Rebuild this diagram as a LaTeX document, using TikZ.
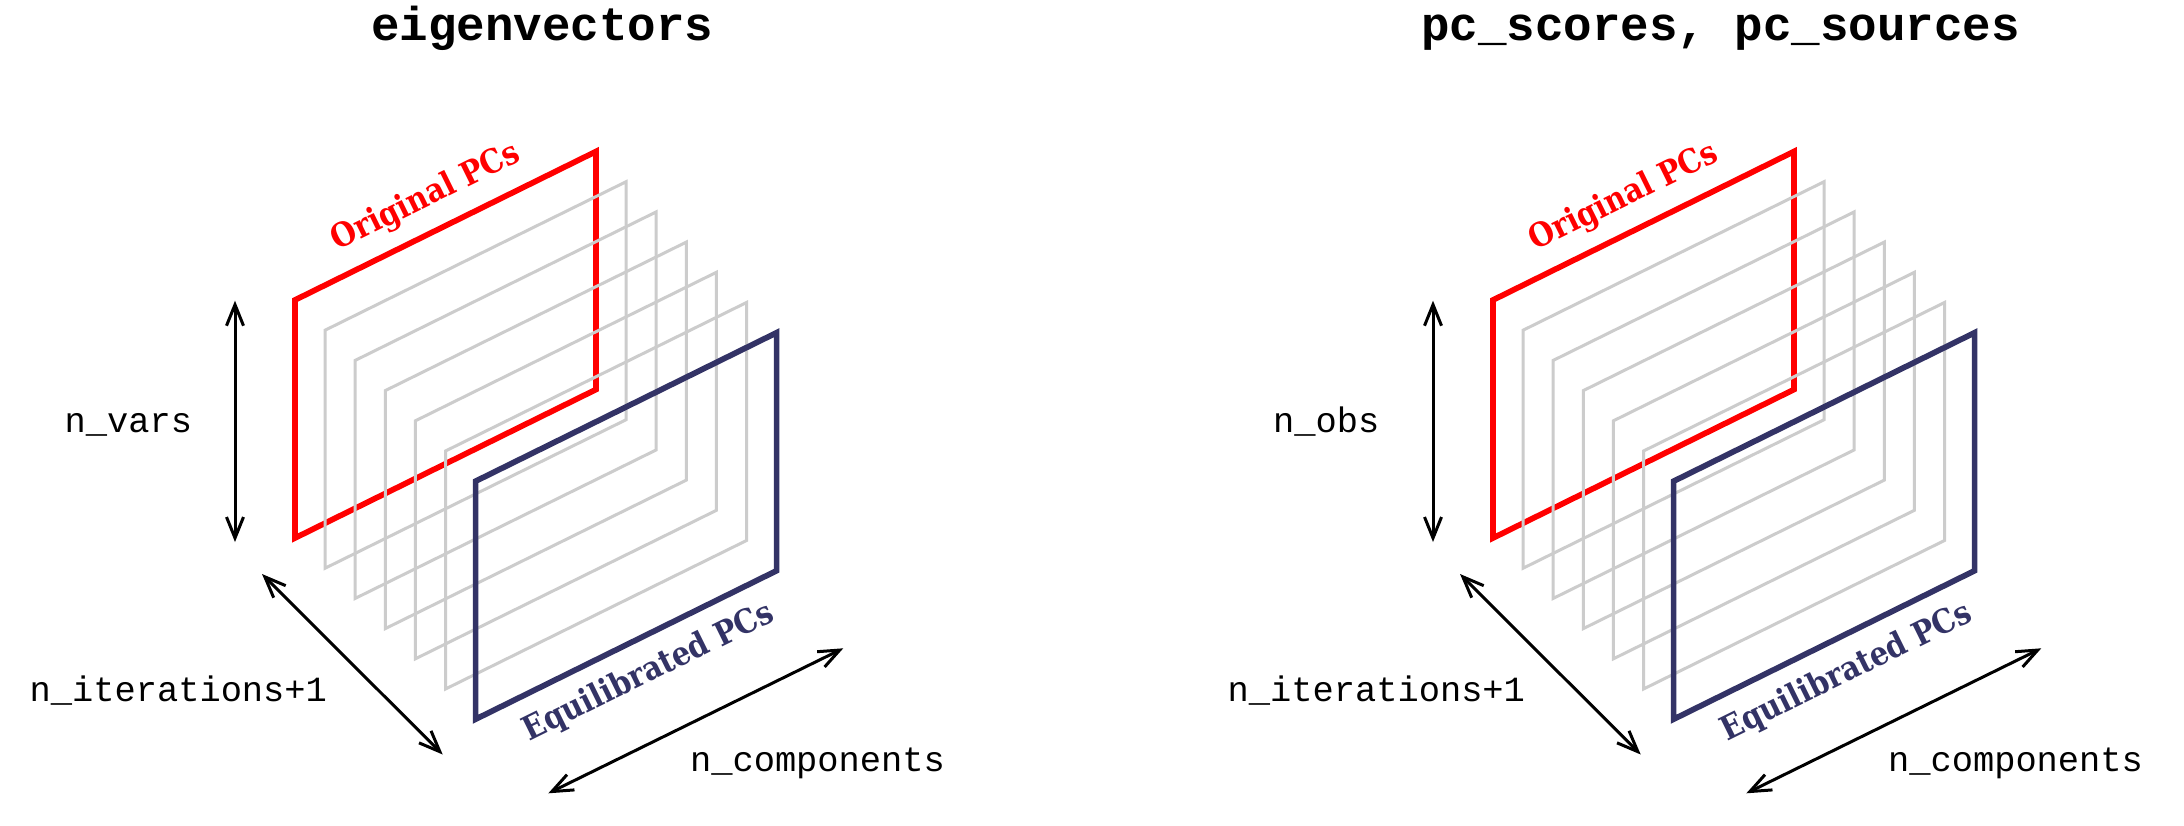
\documentclass[tikz,border=0pt]{standalone}
\usepackage{fontspec}
\setmonofont{Liberation Mono}
\newfontfamily\labelserif[FakeStretch=0.88]{DejaVu Serif}
\usetikzlibrary{arrows.meta}
\definecolor{pcred}{RGB}{255,0,0}
\definecolor{pcnavy}{RGB}{51,51,102}
\definecolor{pcgray}{RGB}{204,204,204}
\newcommand\drawpcpanel[3]{%
\begin{scope}[shift={(#1,0)}]
  \draw[redframe] (295,538) -- ++(301,-148.5) -- ++(0,-238) -- ++(-301,148.5) -- cycle;
  \foreach \i in {1,...,5}
    \draw[grayframe] (295+\i*30.1,538+\i*30.2) -- ++(301,-148.5) -- ++(0,-238) -- ++(-301,148.5) -- cycle;
  \draw[navyframe] (475.6,719.2) -- ++(301,-148.5) -- ++(0,-238) -- ++(-301,148.5) -- cycle;
  \node[pclabel, text=pcred] (orig#2) at (426,197.5) {Original PCs};
  \node[pclabel, text=pcnavy] (equi#2) at (649,672.5) {Equilibrated PCs};
  \node[dimtext] (vlab#2) at (128.3,432.3) {#3};
  \node[dimtext] (ilab#2) at (178.3,701.7) {n\_iterations+1};
  \node[dimtext] (clab#2) at (817.5,771.7) {n\_components};
  \coordinate (vt#2) at (235,300.7);
  \coordinate (vb#2) at (235,542);
  \coordinate (it#2) at (262,574);
  \coordinate (ib#2) at (442.7,754.5);
  \coordinate (cl#2) at (548.3,793.3);
  \coordinate (cr#2) at (843.3,648.3);
  \draw[dimarrow] (vt#2) -- (vb#2);
  \draw[dimarrow] (it#2) -- (ib#2);
  \draw[dimarrow] (cl#2) -- (cr#2);
\end{scope}}
\begin{document}
\begin{tikzpicture}[x=1pt,y=-1pt,
  titletext/.style={font=\fontsize{47.5}{50}\selectfont\ttfamily\bfseries, anchor=base, inner sep=0pt},
  dimtext/.style={font=\fontsize{35.4}{38}\selectfont\ttfamily, anchor=base, inner sep=0pt},
  pclabel/.style={font=\fontsize{33}{36}\selectfont\labelserif\bfseries, rotate=26.26, inner sep=0pt},
  redframe/.style={draw=pcred, line width=5.7pt},
  grayframe/.style={draw=pcgray, line width=3pt},
  navyframe/.style={draw=pcnavy, line width=5.7pt},
  dimarrow/.style={draw=black, line width=3pt, {Straight Barb[length=21pt,width=17pt]}-{Straight Barb[length=21pt,width=17pt]}}
]
\fill[white] (0,0) rectangle (2184,825);
\useasboundingbox (0,0) rectangle (2184,825);
\node[titletext] (title1) at (542.5,40) {eigenvectors};
\node[titletext] (title2) at (1720.5,40) {pc\_scores, pc\_sources};
\drawpcpanel{0}{L}{n\_vars}
\drawpcpanel{1198}{R}{n\_obs}
\end{tikzpicture}
\end{document}
